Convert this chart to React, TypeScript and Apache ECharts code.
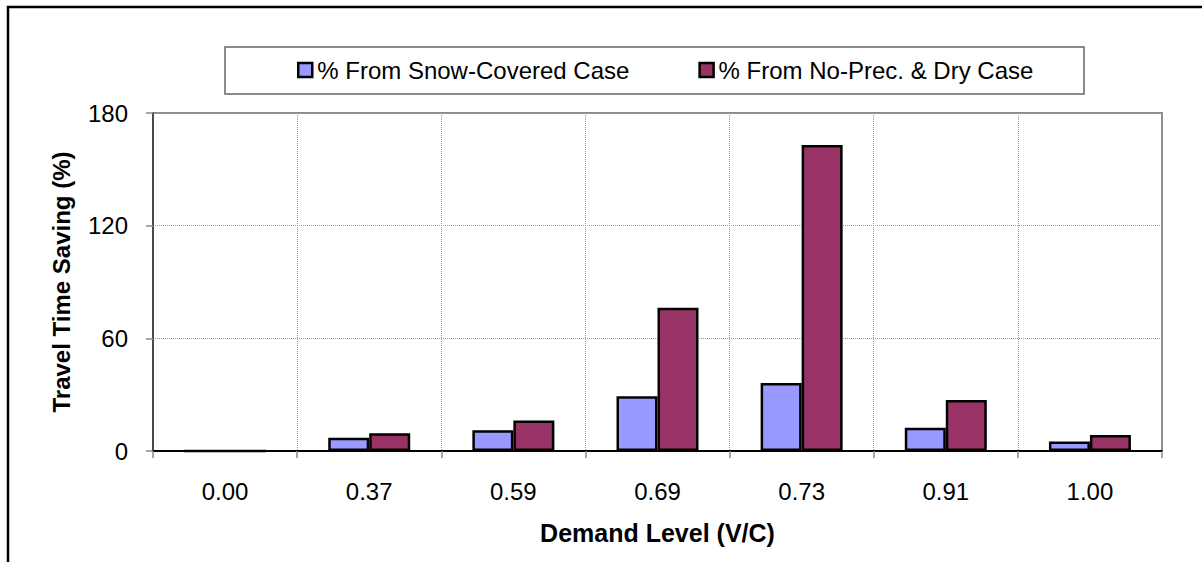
import React, { useEffect, useRef } from "react";
import * as echarts from "echarts";

const categories = ["0.00", "0.37", "0.59", "0.69", "0.73", "0.91", "1.00"];
const snowCovered = [0, 7.1, 11.0, 29.1, 36.2, 12.4, 5.0];
const noPrecDry = [0, 9.4, 16.3, 76.3, 162.9, 27.2, 8.5];
const seriesNames = ["% From Snow-Covered Case", "% From No-Prec. & Dry Case"];
const yMin = 0;
const yMax = 180;
const yInterval = 60;

const FONT = '"Liberation Sans", Arial, sans-serif';

export default function App() {
  const ref = useRef<HTMLDivElement>(null);

  useEffect(() => {
    if (!ref.current) return;
    const chart = echarts.init(ref.current, null, { renderer: "svg" });
    chart.setOption({
      animation: false,
      backgroundColor: "#fff",
      textStyle: { fontFamily: FONT, color: "#000" },
      graphic: [
        {
          type: "polyline",
          shape: { points: [[8, 580], [8, 7], [1220, 7]] },
          style: { stroke: "#000", lineWidth: 2.5, fill: "none" },
          silent: true,
        },
        {
          type: "rect",
          shape: { x: 225, y: 47, width: 859, height: 47 },
          style: { stroke: "#666", lineWidth: 1.5, fill: "none" },
          silent: true,
        },
      ],
      legend: {
        left: 297,
        top: 58,
        padding: 0,
        itemWidth: 14,
        itemHeight: 14,
        itemGap: 69,
        icon: "rect",
        itemStyle: { borderColor: "#000", borderWidth: 2.5 },
        textStyle: { fontSize: 24, fontFamily: FONT, color: "#000" },
        data: seriesNames,
      },
      grid: {
        left: 153,
        right: 40,
        top: 113,
        bottom: 111,
        show: true,
        borderColor: "#8c8c8c",
        borderWidth: 2,
        containLabel: false,
      },
      xAxis: {
        type: "category",
        data: categories,
        boundaryGap: true,
        name: "Demand Level (V/C)",
        nameLocation: "middle",
        nameGap: 69,
        nameTextStyle: { fontSize: 25, fontWeight: "bold", color: "#000", fontFamily: FONT },
        axisLine: { show: true, lineStyle: { color: "#000", width: 2 } },
        axisTick: { show: true, length: 7, alignWithLabel: false, lineStyle: { color: "#888", width: 1.5 } },
        axisLabel: { fontSize: 24, margin: 28, color: "#000", fontFamily: FONT },
        splitLine: { show: true, lineStyle: { color: "#999", type: "dotted", width: 1 } },
      },
      yAxis: {
        type: "value",
        min: yMin,
        max: yMax,
        interval: yInterval,
        name: "Travel Time Saving (%)",
        nameLocation: "middle",
        nameGap: 80,
        nameTextStyle: { fontSize: 24, fontWeight: "bold", color: "#000", fontFamily: FONT },
        axisLine: { show: true, lineStyle: { color: "#333", width: 1.5 } },
        axisTick: { show: true, length: 7, lineStyle: { color: "#888", width: 1.5 } },
        axisLabel: { fontSize: 24, margin: 25, color: "#000", fontFamily: FONT },
        splitLine: { show: true, lineStyle: { color: "#999", type: "dotted", width: 1 } },
      },
      series: [
        {
          name: seriesNames[0],
          type: "bar",
          data: snowCovered,
          barWidth: 41,
          barGap: "0%",
          itemStyle: { color: "#9999FF", borderColor: "#000", borderWidth: 2.5 },
        },
        {
          name: seriesNames[1],
          type: "bar",
          data: noPrecDry,
          barWidth: 41,
          barGap: "0%",
          itemStyle: { color: "#993366", borderColor: "#000", borderWidth: 2.5 },
        },
      ],
    });
    return () => chart.dispose();
  }, []);

  return (
    <div
      ref={ref}
      style={{ position: "absolute", left: 0, top: 0, width: 1202, height: 562 }}
    />
  );
}
